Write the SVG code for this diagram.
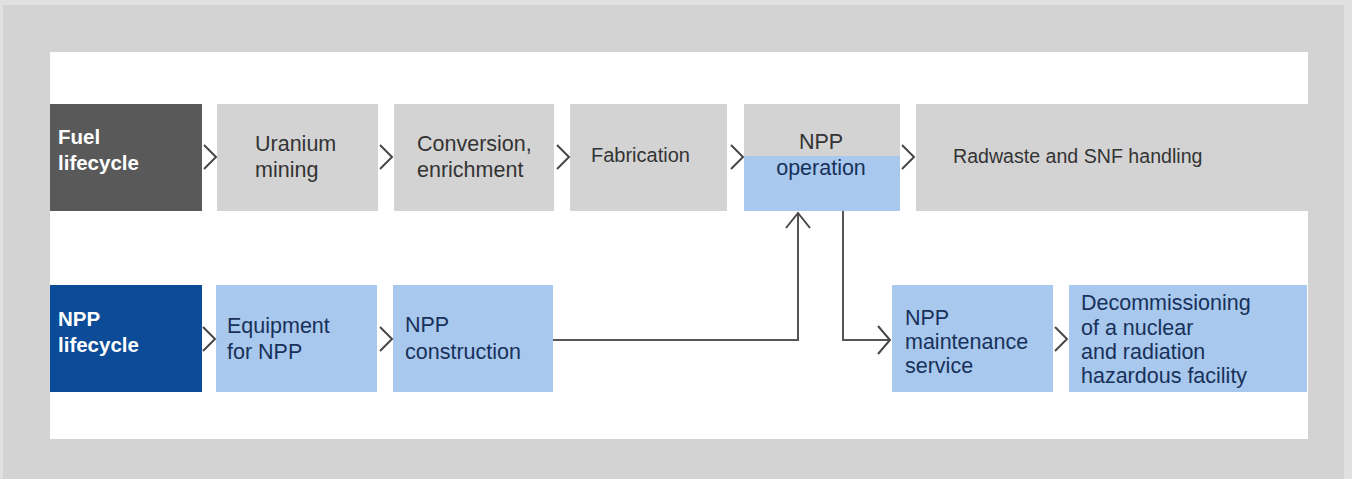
<svg xmlns="http://www.w3.org/2000/svg" width="1352" height="479" viewBox="0 0 1352 479">
<style>
  text { font-family: "Liberation Sans", Arial, sans-serif; font-size: 21.5px; }
  .g { fill: #d3d3d3; }
  .lb { fill: #a8c8ee; }
  .tg { fill: #333333; }
  .tb { fill: #18315a; }
  .tw { fill: #ffffff; font-weight: bold; font-size: 20.5px; }
  .chev { fill: none; stroke: #474747; stroke-width: 2; stroke-linejoin: miter; }
  .line { fill: none; stroke: #555555; stroke-width: 2; }
</style>
<rect x="0" y="0" width="1352" height="479" fill="#e0e0e0"/>
<rect x="3" y="5" width="1341" height="474" fill="#d3d3d3"/>
<rect x="50" y="52" width="1258" height="387" fill="#ffffff"/>

<g id="fuel-lifecycle">
  <rect x="50" y="104" width="152" height="107" fill="#595959"/>
  <text class="tw" x="58" y="144">Fuel</text>
  <text class="tw" x="58" y="170">lifecycle</text>
</g>
<g id="uranium-mining">
  <rect class="g" x="217" y="104" width="161" height="107"/>
  <text class="tg" x="255" y="151">Uranium</text>
  <text class="tg" x="255" y="177">mining</text>
</g>
<g id="conversion">
  <rect class="g" x="394" y="104" width="160" height="107"/>
  <text class="tg" x="417" y="151">Conversion,</text>
  <text class="tg" x="417" y="177">enrichment</text>
</g>
<g id="fabrication">
  <rect class="g" x="570" y="104" width="157" height="107"/>
  <text class="tg" x="591" y="162" style="font-size:20px">Fabrication</text>
</g>
<g id="npp-operation">
  <rect class="g" x="744" y="104" width="156" height="52"/>
  <rect class="lb" x="744" y="156" width="156" height="55"/>
  <text class="tg" x="821" y="149" text-anchor="middle">NPP</text>
  <text class="tb" x="821" y="175" text-anchor="middle">operation</text>
</g>
<g id="radwaste">
  <rect class="g" x="916" y="104" width="392" height="107"/>
  <text class="tg" x="953" y="163" style="font-size:19.6px">Radwaste and SNF handling</text>
</g>

<g id="npp-lifecycle">
  <rect x="50" y="285" width="152" height="107" fill="#0b4b97"/>
  <text class="tw" x="58" y="326">NPP</text>
  <text class="tw" x="58" y="352">lifecycle</text>
</g>
<g id="equipment">
  <rect class="lb" x="216" y="285" width="161" height="107"/>
  <text class="tb" x="227" y="333">Equipment</text>
  <text class="tb" x="227" y="359">for NPP</text>
</g>
<g id="npp-construction">
  <rect class="lb" x="393" y="285" width="160" height="107"/>
  <text class="tb" x="405" y="332">NPP</text>
  <text class="tb" x="405" y="359">construction</text>
</g>
<g id="npp-maintenance">
  <rect class="lb" x="892" y="285" width="161" height="107"/>
  <text class="tb" x="905" y="325">NPP</text>
  <text class="tb" x="905" y="349">maintenance</text>
  <text class="tb" x="905" y="373">service</text>
</g>
<g id="decommissioning">
  <rect class="lb" x="1069" y="285" width="238" height="107"/>
  <text class="tb" x="1081" y="310">Decommissioning</text>
  <text class="tb" x="1081" y="335">of a nuclear</text>
  <text class="tb" x="1081" y="359">and radiation</text>
  <text class="tb" x="1081" y="383">hazardous facility</text>
</g>

<g id="connectors">
  <polyline class="chev" points="204,145 216,157 204,169"/>
  <polyline class="chev" points="380,145 392,157 380,169"/>
  <polyline class="chev" points="557,145 569,157 557,169"/>
  <polyline class="chev" points="731,145 743,157 731,169"/>
  <polyline class="chev" points="902,145 914,157 902,169"/>
  <polyline class="chev" points="203,327 215,339 203,351"/>
  <polyline class="chev" points="380,327 392,339 380,351"/>
  <polyline class="chev" points="1055,327 1067,339 1055,351"/>
  <polyline class="line" points="553,340 798,340 798,214"/>
  <polyline class="chev" points="786,228 798,213 810,228"/>
  <polyline class="line" points="843,211 843,340 889,340"/>
  <polyline class="chev" points="878,326 890,340 878,354"/>
</g>
</svg>
